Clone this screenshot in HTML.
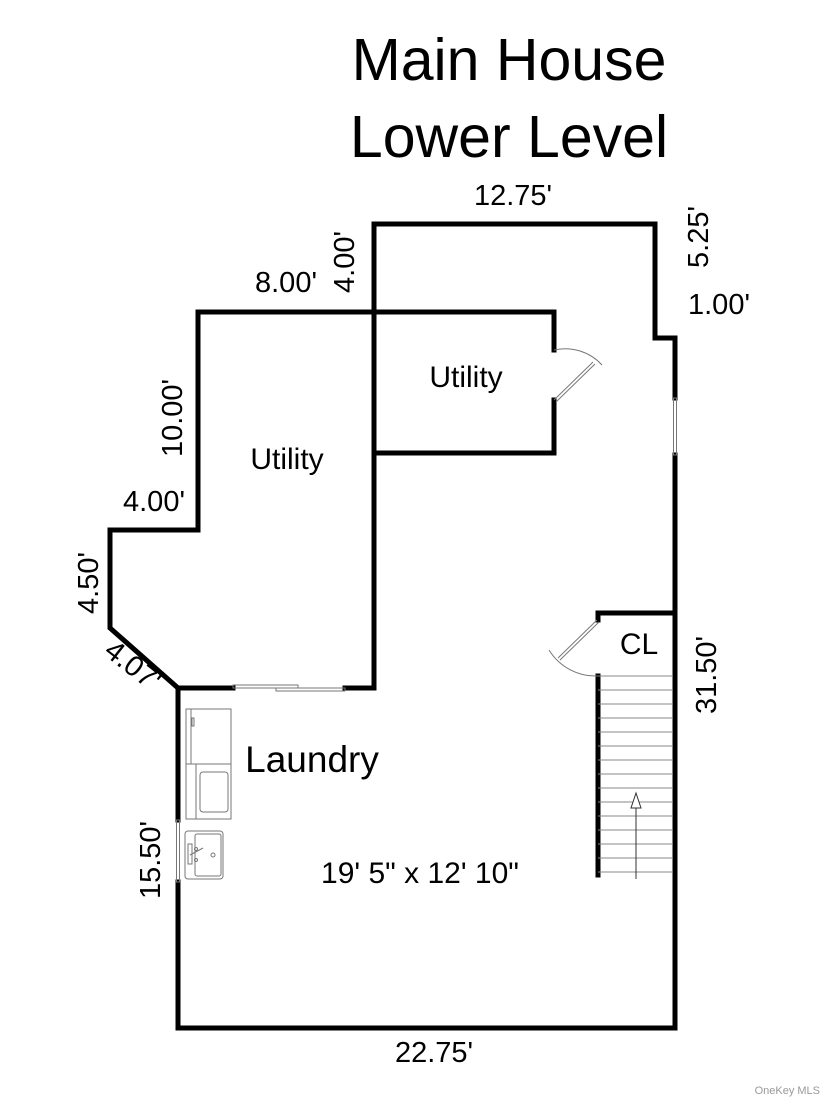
<!DOCTYPE html>
<html><head><style>
body{margin:0;background:#fff}
svg{display:block}
text{font-family:"Liberation Sans",Arial,sans-serif;fill:#000}
</style></head><body>
<svg width="825" height="1100" viewBox="0 0 825 1100" xmlns="http://www.w3.org/2000/svg">
<rect width="825" height="1100" fill="#fff"/>
<text x="509" y="80" font-size="59" text-anchor="middle">Main House</text>
<text x="509" y="157" font-size="59" text-anchor="middle">Lower Level</text>

<g fill="none" stroke="#000" stroke-width="5" stroke-linecap="square">
<polyline points="178,820 178,688 110,628 110,530 198,530 198,312 374,312 374,224 655,224 655,338 675,338 675,398"/>
<polyline points="675,455 675,1028 178,1028 178,882"/>
<polyline points="178,688 233,688"/>
<polyline points="345,688 374,688 374,312"/>
<polyline points="374,312 554,312 554,350"/>
<polyline points="554,400 554,453 374,453"/>
<polyline points="675,613 598,613 598,620"/>
<polyline points="598,676 598,875"/>
</g>

<g fill="none" stroke="#777" stroke-width="1">
<rect x="233" y="685" width="65" height="3"/>
<rect x="276" y="688" width="69" height="3"/>
<rect x="673.5" y="398" width="3" height="57"/>
<rect x="176.5" y="820" width="3" height="62"/>
<path d="M554,350 A50,50 0 0 1 602,365"/>
<line x1="554" y1="400" x2="593" y2="362"/>
<line x1="556" y1="402" x2="595" y2="364"/>
<path d="M598,676 A55,55 0 0 1 549,650"/>
<line x1="597" y1="620" x2="558" y2="658"/>
<line x1="599" y1="622" x2="560" y2="660"/>
<g stroke="#888">
<line x1="598" y1="676" x2="673" y2="676"/>
<line x1="598" y1="690" x2="673" y2="690"/>
<line x1="598" y1="704" x2="673" y2="704"/>
<line x1="598" y1="718" x2="673" y2="718"/>
<line x1="598" y1="732" x2="673" y2="732"/>
<line x1="598" y1="746" x2="673" y2="746"/>
<line x1="598" y1="760" x2="673" y2="760"/>
<line x1="598" y1="774" x2="673" y2="774"/>
<line x1="598" y1="788" x2="673" y2="788"/>
<line x1="598" y1="802" x2="673" y2="802"/>
<line x1="598" y1="816" x2="673" y2="816"/>
<line x1="598" y1="830" x2="673" y2="830"/>
<line x1="598" y1="844" x2="673" y2="844"/>
<line x1="598" y1="858" x2="673" y2="858"/>
<line x1="598" y1="872" x2="673" y2="872"/>
</g>
<line x1="636" y1="879" x2="636" y2="800" stroke="#333"/>
<polygon points="636,793 631,808 641,808" fill="#fff" stroke="#333"/>
<rect x="186" y="709" width="45" height="55"/>
<line x1="191" y1="709" x2="191" y2="764"/>
<rect x="192" y="718" width="2" height="8"/>
<rect x="186" y="764" width="45" height="55"/>
<line x1="196" y1="764" x2="196" y2="819"/>
<rect x="200" y="772" width="28" height="40" rx="3"/>
<rect x="185" y="831" width="38" height="48" rx="3"/>
<rect x="195" y="834" width="26" height="42" rx="2"/>
<rect x="188" y="844" width="4" height="20"/>
<line x1="190" y1="855" x2="203" y2="848"/>
<circle cx="196" cy="849" r="1.5"/>
<circle cx="196" cy="860" r="1.5"/>
<circle cx="213" cy="855" r="2"/>
</g>

<g font-size="29">
<text x="513" y="205" text-anchor="middle">12.75'</text>
<text x="286" y="292" text-anchor="middle">8.00'</text>
<text x="719" y="314" text-anchor="middle">1.00'</text>
<text x="154" y="511" text-anchor="middle">4.00'</text>
<text x="434" y="1062" text-anchor="middle">22.75'</text>
<text transform="translate(354,262) rotate(-90)" text-anchor="middle">4.00'</text>
<text transform="translate(708,237) rotate(-90)" text-anchor="middle">5.25'</text>
<text transform="translate(182,418) rotate(-90)" text-anchor="middle">10.00'</text>
<text transform="translate(98,583) rotate(-90)" text-anchor="middle">4.50'</text>
<text transform="translate(716,675) rotate(-90)" text-anchor="middle">31.50'</text>
<text transform="translate(160,860) rotate(-90)" text-anchor="middle">15.50'</text>
<text transform="translate(127,673) rotate(38)" text-anchor="middle">4.07'</text>
<text x="466" y="387" text-anchor="middle" font-size="30">Utility</text>
<text x="287" y="469" text-anchor="middle" font-size="30">Utility</text>
<text x="639" y="654" text-anchor="middle" font-size="30">CL</text>
<text x="312" y="772" text-anchor="middle" font-size="37">Laundry</text>
<text x="420" y="883" text-anchor="middle" font-size="30">19' 5" x 12' 10"</text>
</g>
<text x="820" y="1094" font-size="11" text-anchor="end" style="fill:#999">OneKey MLS</text>
</svg>
</body></html>
